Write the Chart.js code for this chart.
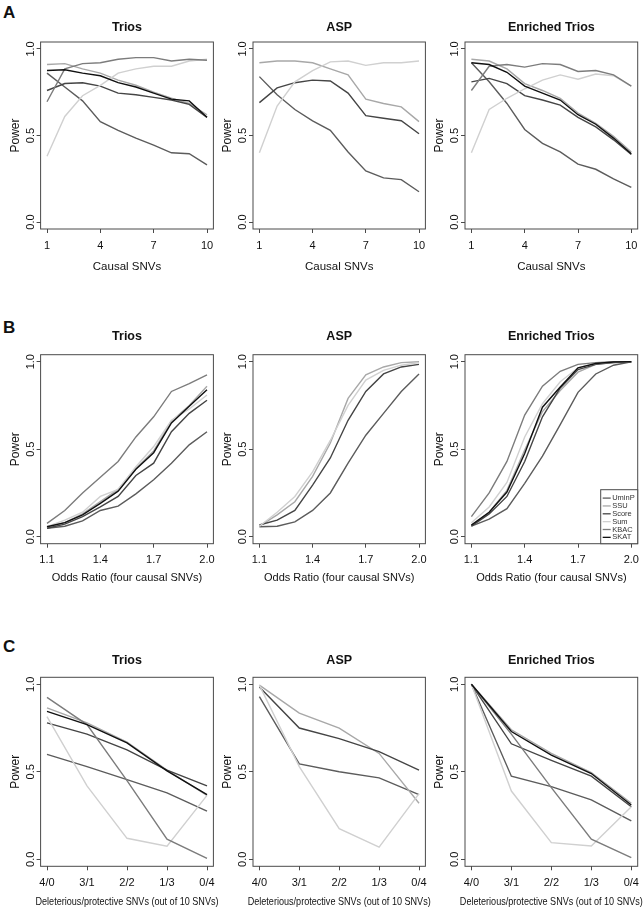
<!DOCTYPE html>
<html>
<head>
<meta charset="utf-8">
<script src="https://cdn.jsdelivr.net/npm/chart.js@4.4.0/dist/chart.umd.min.js"></script>
<style>
  body { margin: 0; background: #fff; width: 644px; height: 908px; position: relative; overflow: hidden;
         font-family: "Liberation Sans", Arial, sans-serif; }
  canvas { position: absolute; }
  .tag { position: absolute; left: 3px; font-weight: bold; font-size: 17px; line-height: 17px; color: #111; }
</style>
</head>
<body>
<div class="tag" style="top:4px">A</div>
<div class="tag" style="top:319px">B</div>
<div class="tag" style="top:638px">C</div>
<script>
// methods, in the order of the legend
const methods = ["UminP", "SSU", "Score", "Sum", "KBAC", "SKAT"];
const methodColors = ["#5c5c5c", "#a8a8a8", "#454545", "#d0d0d0", "#7c7c7c", "#101010"];

const panelTitles = ["Trios", "ASP", "Enriched Trios"];
const powerTicks = [0, 0.5, 1];

// x values / ticks for each row
const causalSNVs = [1, 2, 3, 4, 5, 6, 7, 8, 9, 10];
const causalTicks = [1, 4, 7, 10];
const oddsRatios = [1.1, 1.2, 1.3, 1.4, 1.5, 1.6, 1.7, 1.8, 1.9, 2.0];
const oddsTicks = [1.1, 1.4, 1.7, 2.0];
const splitLabels = ["4/0", "3/1", "2/2", "1/3", "0/4"];
const splitIndex = [0, 1, 2, 3, 4];

// power, one row per method (null = method not run for that design)
// A: number of causal SNVs
const causalTrios = [
  [0.86, 0.78, 0.70, 0.58, 0.53, 0.485, 0.445, 0.40, 0.395, 0.33],
  [0.91, 0.915, 0.885, 0.86, 0.82, 0.79, 0.75, 0.715, 0.685, 0.62],
  [0.76, 0.80, 0.805, 0.785, 0.745, 0.735, 0.72, 0.705, 0.68, 0.605],
  [0.38, 0.61, 0.73, 0.79, 0.86, 0.885, 0.90, 0.90, 0.93, 0.94],
  [0.695, 0.885, 0.915, 0.92, 0.94, 0.95, 0.95, 0.93, 0.94, 0.935],
  [0.875, 0.88, 0.86, 0.845, 0.805, 0.78, 0.745, 0.71, 0.70, 0.605]
];
const causalASP = [
  [0.84, 0.735, 0.65, 0.585, 0.53, 0.405, 0.295, 0.255, 0.245, 0.175],
  [0.92, 0.93, 0.93, 0.92, 0.885, 0.85, 0.71, 0.685, 0.665, 0.58],
  [0.69, 0.775, 0.805, 0.82, 0.815, 0.745, 0.615, 0.60, 0.585, 0.51],
  [0.40, 0.67, 0.81, 0.875, 0.925, 0.93, 0.905, 0.92, 0.92, 0.93],
  null,
  null
];
const causalEnriched = [
  [0.92, 0.81, 0.685, 0.535, 0.455, 0.405, 0.335, 0.305, 0.25, 0.20],
  [0.94, 0.93, 0.885, 0.80, 0.76, 0.715, 0.63, 0.57, 0.495, 0.405],
  [0.81, 0.83, 0.80, 0.73, 0.705, 0.675, 0.605, 0.55, 0.475, 0.39],
  [0.40, 0.65, 0.715, 0.77, 0.82, 0.85, 0.825, 0.855, 0.845, 0.785],
  [0.76, 0.90, 0.91, 0.895, 0.915, 0.91, 0.87, 0.875, 0.85, 0.785],
  [0.92, 0.91, 0.865, 0.785, 0.745, 0.705, 0.62, 0.565, 0.485, 0.395]
];
// B: odds ratio
const oddsTrios = [
  [0.048, 0.06, 0.09, 0.15, 0.175, 0.245, 0.325, 0.42, 0.525, 0.60],
  [0.057, 0.08, 0.13, 0.20, 0.27, 0.39, 0.49, 0.66, 0.75, 0.86],
  [0.048, 0.072, 0.115, 0.17, 0.23, 0.35, 0.42, 0.60, 0.705, 0.78],
  [0.057, 0.095, 0.14, 0.23, 0.27, 0.40, 0.515, 0.665, 0.73, 0.81],
  [0.076, 0.15, 0.25, 0.34, 0.43, 0.57, 0.685, 0.83, 0.875, 0.925],
  [0.057, 0.08, 0.125, 0.19, 0.26, 0.385, 0.48, 0.65, 0.745, 0.84]
];
const oddsASP = [
  [0.057, 0.06, 0.085, 0.15, 0.25, 0.42, 0.58, 0.705, 0.83, 0.93],
  [0.06, 0.125, 0.20, 0.345, 0.535, 0.79, 0.925, 0.97, 0.995, 1.0],
  [0.067, 0.095, 0.15, 0.295, 0.45, 0.665, 0.83, 0.93, 0.97, 0.985],
  [0.06, 0.14, 0.23, 0.37, 0.55, 0.75, 0.895, 0.95, 0.98, 0.995],
  null,
  null
];
const oddsEnriched = [
  [0.06, 0.10, 0.16, 0.305, 0.46, 0.64, 0.825, 0.93, 0.98, 1.0],
  [0.067, 0.14, 0.265, 0.495, 0.715, 0.835, 0.94, 0.985, 0.995, 1.0],
  [0.06, 0.13, 0.23, 0.43, 0.685, 0.85, 0.955, 0.985, 0.995, 1.0],
  [0.08, 0.17, 0.31, 0.57, 0.76, 0.885, 0.965, 0.99, 0.998, 1.0],
  [0.115, 0.25, 0.43, 0.695, 0.86, 0.945, 0.985, 0.995, 1.0, 1.0],
  [0.067, 0.14, 0.255, 0.475, 0.74, 0.855, 0.965, 0.99, 0.998, 1.0]
];
// C: deleterious/protective split
const splitTrios = [
  [0.60, 0.53, 0.455, 0.38, 0.275],
  [0.865, 0.78, 0.67, 0.51, 0.365],
  [0.78, 0.715, 0.625, 0.51, 0.42],
  [0.815, 0.42, 0.12, 0.075, 0.365],
  [0.925, 0.77, 0.45, 0.115, 0.005],
  [0.845, 0.77, 0.665, 0.505, 0.37]
];
const splitASP = [
  [0.93, 0.545, 0.50, 0.465, 0.37],
  [0.995, 0.835, 0.75, 0.605, 0.32],
  [0.985, 0.75, 0.69, 0.615, 0.51],
  [0.995, 0.53, 0.175, 0.07, 0.375],
  null,
  null
];
const splitEnriched = [
  [1.0, 0.475, 0.415, 0.34, 0.22],
  [1.0, 0.74, 0.605, 0.495, 0.32],
  [1.0, 0.66, 0.565, 0.475, 0.30],
  [1.0, 0.39, 0.095, 0.076, 0.30],
  [1.0, 0.715, 0.41, 0.115, 0.01],
  [1.0, 0.73, 0.595, 0.49, 0.31]
];

const FONT = "'Liberation Sans', Arial, sans-serif";
const INK = "#111";
const FRAME = "#4a4a4a";

// R-style frame, rotated y labels, titles and legend
const rFrame = {
  id: "rFrame",
  afterDatasetsDraw(chart, args, o) {
    const { ctx, chartArea: a, scales: { x, y } } = chart;
    const cx = (a.left + a.right) / 2;
    ctx.save();
    ctx.strokeStyle = FRAME;
    ctx.lineWidth = 1;
    ctx.strokeRect(a.left, a.top, a.right - a.left, a.bottom - a.top);
    ctx.fillStyle = INK;
    ctx.textAlign = "center";
    ctx.textBaseline = "middle";

    ctx.font = "bold 12.5px " + FONT;
    ctx.fillText(o.title, cx, a.top - o.titleGap);

    ctx.font = "11px " + FONT;
    o.xTicks.forEach((v, i) => ctx.fillText(o.xLabels[i], x.getPixelForValue(v), a.bottom + 16.5));

    // axis title, squeezed to the narrow width of the original where asked
    ctx.font = o.xTitleFont;
    ctx.save();
    ctx.translate(cx, a.bottom + o.xTitleGap);
    if (o.xTitleWidth) {
      const tw = ctx.measureText(o.xTitle).width;
      if (tw > o.xTitleWidth) ctx.scale(o.xTitleWidth / tw, 1);
    }
    ctx.fillText(o.xTitle, 0, 0);
    ctx.restore();

    ctx.font = "11px " + FONT;
    powerTicks.forEach(v => {
      ctx.save();
      ctx.translate(a.left - 10, y.getPixelForValue(v));
      ctx.rotate(-Math.PI / 2);
      ctx.fillText(v.toFixed(1), 0, 0);
      ctx.restore();
    });
    ctx.save();
    ctx.font = "12px " + FONT;
    ctx.translate(a.left - 25, (a.top + a.bottom) / 2);
    ctx.rotate(-Math.PI / 2);
    ctx.fillText("Power", 0, 0);
    ctx.restore();

    if (o.legend) {
      const sets = chart.data.datasets;
      const w = 37, step = 7.85, h = 54;
      const lx = a.right - w, ly = a.bottom - h;
      ctx.fillStyle = "#fff";
      ctx.fillRect(lx, ly, w, h);
      ctx.strokeRect(lx, ly, w, h);
      ctx.font = "7.5px " + FONT;
      ctx.textAlign = "left";
      sets.forEach((d, i) => {
        const yy = ly + 8.4 + i * step;
        ctx.strokeStyle = d.borderColor;
        ctx.lineWidth = 1.3;
        ctx.beginPath();
        ctx.moveTo(lx + 2, yy);
        ctx.lineTo(lx + 10, yy);
        ctx.stroke();
        ctx.fillStyle = "#333";
        ctx.fillText(d.label, lx + 11.5, yy);
      });
    }
    ctx.restore();
  }
};

// page layout of the 3x3 grid (canvas rectangles and plot-box paddings)
const colLeft = [0, 212, 424];
const colWidth = [224, 224, 220];
const colPad = [[36.6, 10.6], [37, 10.6], [37, 6.3]];
const rowTop = [0, 300, 620];
const rowHeight = [285, 285, 288];
const rowPad = [[42, 52], [54.7, 37.3], [57.3, 37.7]];
const rowTitleGap = [14, 18, 17];
const rowXTitleGap = [38, 34, 36];

const rows = [
  { xs: causalSNVs, ticks: causalTicks, labels: causalTicks.map(String), min: 0.64, max: 10.36,
    xTitle: "Causal SNVs", xFont: "11.5px " + FONT, panels: [causalTrios, causalASP, causalEnriched] },
  { xs: oddsRatios, ticks: oddsTicks, labels: oddsTicks.map(v => v.toFixed(1)), min: 1.064, max: 2.036,
    xTitle: "Odds Ratio (four causal SNVs)", xFont: "11px " + FONT, panels: [oddsTrios, oddsASP, oddsEnriched] },
  { xs: splitIndex, ticks: splitIndex, labels: splitLabels, min: -0.16, max: 4.16,
    xTitle: "Deleterious/protective SNVs (out of 10 SNVs)", xFont: "10.5px " + FONT, xWidth: 183,
    panels: [splitTrios, splitASP, splitEnriched] }
];

rows.forEach((row, r) => {
  row.panels.forEach((power, c) => {
    const canvas = document.createElement("canvas");
    canvas.width = colWidth[c];
    canvas.height = rowHeight[r];
    canvas.style.left = colLeft[c] + "px";
    canvas.style.top = rowTop[r] + "px";
    document.body.appendChild(canvas);

    const datasets = [];
    power.forEach((vals, i) => {
      if (!vals) return;
      datasets.push({
        label: methods[i],
        data: vals.map((v, j) => ({ x: row.xs[j], y: v })),
        borderColor: methodColors[i],
        borderWidth: 1.4,
        pointRadius: 0,
        fill: false,
        tension: 0,
        order: methods.length - i
      });
    });

    const axisGrid = { drawOnChartArea: false, drawTicks: true, tickLength: 4, color: FRAME, lineWidth: 1 };
    new Chart(canvas, {
      type: "line",
      data: { datasets },
      options: {
        responsive: false,
        animation: false,
        events: [],
        layout: { padding: { left: colPad[c][0], right: colPad[c][1], top: rowPad[r][0], bottom: rowPad[r][1] } },
        plugins: {
          legend: { display: false },
          tooltip: { enabled: false },
          rFrame: {
            title: panelTitles[c],
            titleGap: rowTitleGap[r],
            xTicks: row.ticks,
            xLabels: row.labels,
            xTitle: row.xTitle,
            xTitleFont: row.xFont,
            xTitleWidth: row.xWidth,
            xTitleGap: rowXTitleGap[r],
            legend: r === 1 && c === 2
          }
        },
        scales: {
          x: {
            type: "linear", min: row.min, max: row.max,
            afterBuildTicks: s => { s.ticks = row.ticks.map(v => ({ value: v })); },
            ticks: { display: false },
            grid: axisGrid,
            border: { display: false }
          },
          y: {
            type: "linear", min: -0.04, max: 1.04,
            afterBuildTicks: s => { s.ticks = powerTicks.map(v => ({ value: v })); },
            ticks: { display: false },
            grid: axisGrid,
            border: { display: false }
          }
        }
      },
      plugins: [rFrame]
    });
  });
});
</script>
</body>
</html>
